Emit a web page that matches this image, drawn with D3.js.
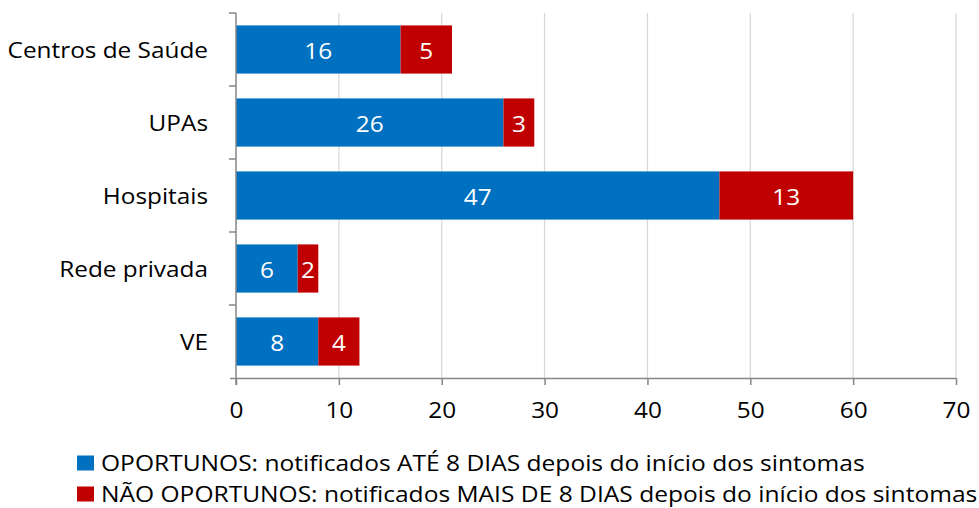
<!DOCTYPE html>
<html><head><meta charset="utf-8">
<script src="https://cdn.jsdelivr.net/npm/d3@7"></script>
<style>
body{margin:0;background:#fff;}
svg text{font-family:"Open Sans",sans-serif;}
</style></head>
<body>
<svg id="chart" width="979" height="508"></svg>
<script>
const categories = ["Centros de Saúde","UPAs","Hospitais","Rede privada","VE"];
const oportunos = [16,26,47,6,8];
const naoOportunos = [5,3,13,2,4];
const xTicks = [0,10,20,30,40,50,60,70];
const seriesNames = ["OPORTUNOS: notificados ATÉ 8 DIAS depois do início dos sintomas",
  "NÃO OPORTUNOS: notificados MAIS DE 8 DIAS depois do início dos sintomas"];
const colors = ["#0070c0","#c00000"];

(function(){
const svg = d3.select("#chart");
const pL = 236, pR = 956, pT = 13, pB = 378;
const FS = 21, SX = 1.16;
const x = d3.scaleLinear().domain([0,70]).range([pL,pR]);
const y = d3.scaleBand().domain(categories).range([pT,pB]).paddingInner(0.34).paddingOuter(0.17);

// gridlines
svg.append("g").selectAll("line").data(xTicks.slice(1)).join("line")
  .attr("x1",d=>x(d)).attr("x2",d=>x(d)).attr("y1",pT).attr("y2",pB)
  .attr("stroke","#d9d9d9").attr("stroke-width",1.3);

// bars
const rows = categories.map((c,i)=>({c, vals:[oportunos[i], naoOportunos[i]]}));
rows.forEach(r=>{
  let acc=0;
  r.vals.forEach((v,j)=>{
    const g = svg.append("g");
    g.append("rect").attr("x",x(acc)).attr("width",x(acc+v)-x(acc))
      .attr("y",y(r.c)).attr("height",y.bandwidth()).attr("fill",colors[j]);
    const cx=(x(acc)+x(acc+v))/2, cy=y(r.c)+y.bandwidth()/2+1.5;
    g.append("text").attr("transform",`translate(${cx},${cy}) scale(${SX},1)`)
      .attr("text-anchor","middle").attr("dominant-baseline","central")
      .attr("fill","#fff").attr("font-size",FS).text(v);
    acc+=v;
  });
});

// x axis
const xa = svg.append("g").attr("transform",`translate(0,${pB})`)
  .call(d3.axisBottom(x).tickValues(xTicks).tickSize(7).tickPadding(18));
xa.select(".domain").attr("stroke","#868686").attr("stroke-width",1.5).attr("d",`M${pL-6},0.5H${pR}`);
xa.selectAll(".tick line").attr("stroke","#868686").attr("stroke-width",1.5);
xa.selectAll(".tick text").attr("font-size",FS).attr("fill","#000").attr("font-family","Open Sans")
  .attr("transform",`scale(${SX},1)`);

// y axis
const yEdges = d3.range(categories.length+1).map(i=>pT+i*(pB-pT)/categories.length);
svg.append("line").attr("x1",pL).attr("x2",pL).attr("y1",pT).attr("y2",pB+7)
  .attr("stroke","#868686").attr("stroke-width",1.5);
svg.append("g").selectAll("line").data(yEdges.slice(0,-1)).join("line")
  .attr("x1",pL-7).attr("x2",pL).attr("y1",d=>d).attr("y2",d=>d)
  .attr("stroke","#868686").attr("stroke-width",1.5);
svg.append("g").selectAll("text").data(categories).join("text")
  .attr("transform",d=>`translate(${pL-28},${y(d)+y.bandwidth()/2+1}) scale(${SX},1)`)
  .attr("text-anchor","end")
  .attr("dominant-baseline","central").attr("font-size",FS).attr("fill","#000").text(d=>d);

// legend
const lg = svg.append("g");
seriesNames.forEach((s,i)=>{
  const ly = 463 + i*31;
  lg.append("rect").attr("x",77).attr("y",ly-7.5).attr("width",17).attr("height",15).attr("fill",colors[i]);
  lg.append("text").attr("transform",`translate(101,${ly}) scale(1.17,1)`).attr("dominant-baseline","central")
    .attr("font-size",FS).attr("fill","#000").text(s);
});
})();
</script>
</body></html>
